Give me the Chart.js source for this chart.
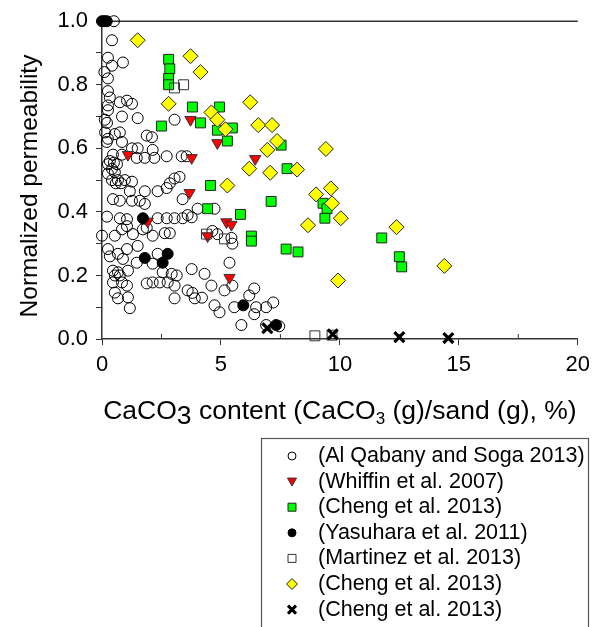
<!DOCTYPE html>
<html>
<head>
<meta charset="utf-8">
<script src="https://cdn.jsdelivr.net/npm/chart.js@4.4.1/dist/chart.umd.min.js"></script>
<style>
  html, body { margin: 0; padding: 0; background: #fff; }
  #wrap { width: 597px; height: 627px; }
</style>
</head>
<body>
<div id="wrap"><canvas id="chart" width="597" height="627"></canvas></div>
<script>
// ===== DATA =====
const xTickValues = [0, 5, 10, 15, 20];
const yTickLabels = ["0.0", "0.2", "0.4", "0.6", "0.8", "1.0"];

const seriesNames = [
  "(Al Qabany and Soga 2013)",
  "(Whiffin et al. 2007)",
  "(Cheng et al. 2013)",
  "(Yasuhara et al. 2011)",
  "(Martinez et al. 2013)",
  "(Cheng et al. 2013)",
  "(Cheng et al. 2013)"
];

const qabanyX = [0.5,0.42,0.25,0.42,0.88,0.1,0.25,0.25,0.33,0.25,0.75,1.05,1.26,0.25,0.12,0.84,1.5,
  0.21,3.05,0.13,0.54,0.75,0.25,0.2,0.84,1.88,2.1,1.26,1.5,2.13,0.46,0.84,0.33,0.5,1.46,1.8,2.2,2.72,3.35,3.56,
  0.25,0.63,0.42,0.54,0.25,0.42,0.67,0.96,1.26,0.58,0.8,3.05,3.26,2.85,2.72,1.17,1.8,2.34,0.46,0.75,1.26,1.59,1.8,3.39,
  0.21,0.75,1.05,2.34,2.72,3.05,3.39,3.77,1.05,1.88,
  0.0,0.54,0.84,1.3,1.72,2.13,2.64,2.85,0.25,0.33,0.67,1.05,1.5,0.88,1.46,2.13,2.34,0.46,0.67,1.09,0.54,0.75,
  2.55,2.93,3.14,3.77,0.46,0.84,1.05,1.88,2.13,2.43,2.76,3.05,3.6,3.8,0.54,0.67,1.09,3.05,1.17,
  4.02,4.73,3.6,4.64,4.85,5.44,5.48,5.36,4.31,4.6,5.15,5.48,6.4,6.19,3.9,4.2,4.73,4.94,5.56,6.48,6.9,7.2,6.4,5.86,6.9,7.45];
const qabanyY = [1.0,0.94,0.885,0.86,0.87,0.84,0.82,0.78,0.76,0.735,0.745,0.75,0.74,0.72,0.69,0.70,0.695,
  0.68,0.69,0.65,0.645,0.65,0.63,0.62,0.62,0.64,0.635,0.60,0.6,0.595,0.58,0.58,0.56,0.555,0.57,0.57,0.57,0.575,0.575,0.575,
  0.55,0.55,0.535,0.525,0.52,0.50,0.50,0.50,0.495,0.49,0.49,0.505,0.51,0.49,0.475,0.465,0.465,0.465,0.44,0.435,0.435,0.435,0.425,0.44,
  0.385,0.38,0.377,0.38,0.38,0.38,0.38,0.383,0.355,0.35,
  0.325,0.325,0.345,0.33,0.345,0.325,0.333,0.333,0.283,0.26,0.268,0.283,0.293,0.252,0.24,0.237,0.268,0.215,0.21,0.215,0.2,0.2,
  0.21,0.205,0.2,0.22,0.178,0.178,0.168,0.175,0.178,0.178,0.178,0.168,0.153,0.145,0.146,0.128,0.131,0.128,0.097,
  0.41,0.41,0.39,0.34,0.33,0.318,0.3,0.24,0.205,0.168,0.153,0.168,0.159,0.137,0.128,0.13,0.106,0.084,0.1,0.1,0.1,0.115,0.078,0.044,0.044,0.04];

const whiffinX = [1.09,1.92,3.72,3.77,3.68,4.85,6.44,5.23,5.44,4.44,5.36];
const whiffinY = [0.58,0.37,0.69,0.57,0.46,0.617,0.567,0.368,0.36,0.324,0.193];

const chengSqX = [2.8,2.85,2.8,2.8,2.5,3.8,4.94,4.14,4.85,5.48,5.27,7.53,7.78,4.56,4.44,5.82,7.11,6.28,6.28,7.74,8.24,9.29,9.46,9.37,11.76,12.5,12.6];
const chengSqY = [0.88,0.85,0.82,0.80,0.67,0.73,0.73,0.68,0.657,0.664,0.623,0.61,0.536,0.483,0.41,0.392,0.433,0.324,0.308,0.283,0.274,0.427,0.41,0.38,0.318,0.259,0.227];

const yasuharaX = [0.0,0.1,0.2,1.72,1.8,2.55,2.76,5.94,7.32];
const yasuharaY = [1.0,1.0,1.0,0.38,0.255,0.24,0.268,0.106,0.044];

const martinezX = [3.05,3.43,4.39,5.15,8.95,9.67];
const martinezY = [0.79,0.80,0.33,0.315,0.01,0.012];

const chengDiaX = [1.5,3.72,4.14,2.8,6.23,4.6,4.85,5.19,6.57,7.15,7.36,6.95,6.19,7.07,5.27,9.41,8.2,9.0,9.62,9.67,10.04,8.66,9.92,12.38,14.39];
const chengDiaY = [0.94,0.89,0.84,0.74,0.745,0.713,0.69,0.66,0.673,0.673,0.623,0.595,0.536,0.523,0.483,0.598,0.533,0.455,0.474,0.427,0.38,0.358,0.184,0.352,0.23];

const chengXX = [6.95,9.7,12.5,14.56];
const chengXY = [0.034,0.015,0.006,0.003];

// ===== helpers =====
const pts = (xs, ys) => xs.map((x, i) => ({ x: x, y: ys[i] }));
const FONT = "'Liberation Sans', Arial, sans-serif";

const styles = [
  { pointStyle: "circle",   radius: 5.5, bg: "rgba(0,0,0,0)", border: "#000", bw: 1,   rot: 0 },
  { pointStyle: "triangle", radius: 6.5, bg: "#ff0000",       border: "#333", bw: 1,   rot: 180 },
  { pointStyle: "rect",     radius: 7,   bg: "#00ff00",       border: "#222", bw: 1,   rot: 0 },
  { pointStyle: "circle",   radius: 5.5, bg: "#000",          border: "#000", bw: 1,   rot: 0 },
  { pointStyle: "rect",     radius: 7,   bg: "rgba(0,0,0,0)", border: "#333", bw: 1,   rot: 0 },
  { pointStyle: "rectRot",  radius: 7.5, bg: "#ffff00",       border: "#222", bw: 1,   rot: 0 },
  { pointStyle: "crossRot", radius: 7,   bg: "#000",          border: "#000", bw: 3.2, rot: 0 }
];
const seriesData = [
  pts(qabanyX, qabanyY), pts(whiffinX, whiffinY), pts(chengSqX, chengSqY),
  pts(yasuharaX, yasuharaY), pts(martinezX, martinezY), pts(chengDiaX, chengDiaY), pts(chengXX, chengXY)
];

const datasets = seriesData.map((d, i) => ({
  label: seriesNames[i],
  data: d,
  pointStyle: styles[i].pointStyle,
  pointRadius: styles[i].radius,
  pointBackgroundColor: styles[i].bg,
  pointBorderColor: styles[i].border,
  pointBorderWidth: styles[i].bw,
  pointRotation: styles[i].rot,
  clip: false,
  order: seriesData.length - i
}));

// ===== extra drawing: top frame, minor ticks, titles, legend =====
const decor = {
  id: "decor",
  beforeDatasetsDraw(chart) {
    const { ctx, chartArea: a, scales } = chart;
    ctx.save();
    ctx.strokeStyle = "#333";
    ctx.lineWidth = 1.5;
    ctx.beginPath();
    ctx.moveTo(a.left, a.top);
    ctx.lineTo(a.right, a.top);
    ctx.stroke();
    ctx.lineWidth = 1;
    scales.x.ticks.forEach(t => {
      if (t.value % 5 !== 0) {
        const px = scales.x.getPixelForValue(t.value);
        ctx.beginPath();
        ctx.moveTo(px, a.bottom);
        ctx.lineTo(px, a.bottom - 5);
        ctx.stroke();
      }
    });
    ctx.restore();
  },
  afterDraw(chart) {
    const { ctx, chartArea: a } = chart;
    ctx.save();
    ctx.fillStyle = "#000";

    // y title
    ctx.save();
    ctx.translate(30, 186);
    ctx.rotate(-Math.PI / 2);
    ctx.font = "24.5px " + FONT;
    ctx.textAlign = "center";
    ctx.textBaseline = "middle";
    ctx.fillText("Normalized permeability", 0, 0);
    ctx.restore();

    // x title with subscripts
    const parts = [
      ["CaCO", 26.5, 0], ["3", 26.5, 5], [" content (CaCO", 26.5, 0], ["3", 17, 5], [" (g)/sand (g), %)", 26.5, 0]
    ];
    let w = 0;
    parts.forEach(p => { ctx.font = p[1] + "px " + FONT; w += ctx.measureText(p[0]).width; });
    let x = (a.left + a.right) / 2 - w / 2;
    const base = 419;
    ctx.textAlign = "left";
    ctx.textBaseline = "alphabetic";
    parts.forEach(p => {
      ctx.font = p[1] + "px " + FONT;
      ctx.fillText(p[0], x, base + p[2]);
      x += ctx.measureText(p[0]).width;
    });

    // legend
    ctx.strokeStyle = "#555";
    ctx.lineWidth = 1.2;
    ctx.strokeRect(261.5, 438.5, 327, 200);
    ctx.font = "21.5px " + FONT;
    ctx.textBaseline = "middle";
    chart.data.datasets.forEach((ds, i) => {
      const cy = 456 + i * 25.6, cx = 292;
      ctx.fillStyle = ds.pointBackgroundColor;
      ctx.strokeStyle = ds.pointBorderColor;
      ctx.lineWidth = ds.pointStyle === "crossRot" ? 3 : 1;
      ctx.beginPath();
      if (ds.pointStyle === "circle") {
        ctx.arc(cx, cy, 4, 0, Math.PI * 2);
        ctx.fill(); ctx.stroke();
      } else if (ds.pointStyle === "triangle") {
        ctx.moveTo(cx - 4.5, cy - 3.5); ctx.lineTo(cx + 4.5, cy - 3.5); ctx.lineTo(cx, cy + 4.5); ctx.closePath();
        ctx.fill(); ctx.stroke();
      } else if (ds.pointStyle === "rect") {
        ctx.rect(cx - 4, cy - 4, 8, 8);
        ctx.fill(); ctx.stroke();
      } else if (ds.pointStyle === "rectRot") {
        ctx.moveTo(cx, cy - 5.5); ctx.lineTo(cx + 5.5, cy); ctx.lineTo(cx, cy + 5.5); ctx.lineTo(cx - 5.5, cy); ctx.closePath();
        ctx.fill(); ctx.stroke();
      } else {
        ctx.moveTo(cx - 4, cy - 4); ctx.lineTo(cx + 4, cy + 4);
        ctx.moveTo(cx + 4, cy - 4); ctx.lineTo(cx - 4, cy + 4);
        ctx.stroke();
      }
      ctx.fillStyle = "#000";
      ctx.fillText(ds.label, 318, cy);
    });
    ctx.restore();
  }
};

new Chart(document.getElementById("chart"), {
  type: "scatter",
  data: { datasets: datasets },
  options: {
    responsive: false,
    devicePixelRatio: 1,
    animation: false,
    layout: { padding: { left: 0, top: 18, right: 17, bottom: 0 } },
    plugins: { legend: { display: false }, tooltip: { enabled: false } },
    scales: {
      x: {
        type: "linear",
        min: 0, max: 20,
        afterBuildTicks: s => {
          const t = [];
          xTickValues.forEach((v, i) => {
            t.push({ value: v });
            if (i < xTickValues.length - 1) t.push({ value: (v + xTickValues[i + 1]) / 2 });
          });
          s.ticks = t;
        },
        afterFit: s => { s.height = 288; },
        border: { display: true, color: "#333", width: 1.5 },
        grid: {
          drawOnChartArea: false,
          tickLength: 6,
          tickColor: c => (c.tick && c.tick.value % 5 === 0) ? "#333" : "rgba(0,0,0,0)"
        },
        ticks: {
          padding: 7,
          maxRotation: 0,
          autoSkip: false,
          color: "#000",
          font: { family: FONT, size: 22 },
          callback: v => (v % 5 === 0 ? String(v) : "")
        }
      },
      y: {
        type: "linear",
        min: 0, max: 1,
        afterBuildTicks: s => {
          const t = [];
          for (let i = 0; i <= 10; i++) t.push({ value: i / 10 });
          s.ticks = t;
        },
        afterFit: s => { s.width = 102; },
        border: { display: true, color: "#333", width: 1.5 },
        grid: { drawOnChartArea: false, tickLength: 6, tickColor: "#333" },
        ticks: {
          padding: 8,
          autoSkip: false,
          color: "#000",
          font: { family: FONT, size: 22 },
          callback: v => {
            const k = Math.round(v * 10);
            return k % 2 === 0 ? yTickLabels[k / 2] : "";
          }
        }
      }
    }
  },
  plugins: [decor]
});
</script>
</body>
</html>
